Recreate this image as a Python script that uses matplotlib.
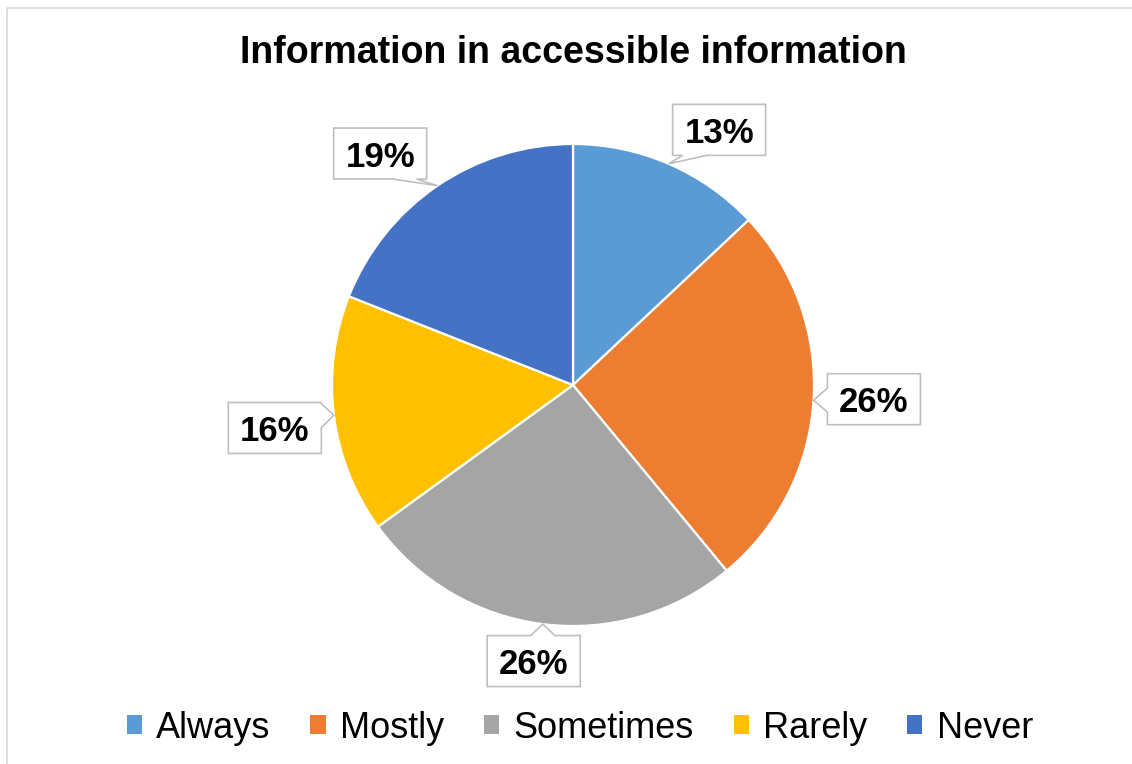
import matplotlib
matplotlib.use("Agg")
import numpy as np
import matplotlib.pyplot as plt
from matplotlib.patches import Polygon, Rectangle, Patch

# Survey responses (percent of respondents)
categories = ["Always", "Mostly", "Sometimes", "Rarely", "Never"]
shares = [13, 26, 26, 16, 19]
colors = ["#5B9BD5", "#ED7D31", "#A5A5A5", "#FFC000", "#4472C4"]
title = "Information in accessible information"

W, H = 1132, 764
plt.rcParams["font.family"] = ["Liberation Sans", "DejaVu Sans"]

fig = plt.figure(figsize=(W / 100, H / 100), dpi=100)
ax = fig.add_axes([0, 0, 1, 1])


def py(y):
    """Convert a top-down pixel row to the axes' bottom-up y."""
    return H - y


center = (573, py(385))
radius = 241
wedges, _ = ax.pie(shares, colors=colors, startangle=90, counterclock=False,
                   center=center, radius=radius, frame=True,
                   wedgeprops=dict(edgecolor="white", linewidth=1.6))
ax.set_xlim(0, W)
ax.set_ylim(0, H)
ax.set_aspect("equal")
ax.axis("off")

# Outer chart frame
ax.add_patch(Rectangle((7, py(H + 20)), W + 20, H + 12, fill=False,
                       edgecolor="#D9D9D9", linewidth=1.2, clip_on=False))

# Callout placement: (radius factor, angular nudge in degrees) per label
label_layout = [(1.22, -6.4), (1.25, 0.9), (1.157, -0.9), (1.25, 1.0), (1.25, 5.6)]
box_w, box_h = 93, 51

for w, val, (rf, nudge) in zip(wedges, shares, label_layout):
    mid = np.deg2rad((w.theta1 + w.theta2) / 2)
    tip = (center[0] + radius * np.cos(mid), center[1] + radius * np.sin(mid))
    ang = mid + np.deg2rad(nudge)
    cx = center[0] + rf * radius * np.cos(ang)
    cy = center[1] + rf * radius * np.sin(ang)
    hw, hh = box_w / 2, box_h / 2
    x0, x1, y0, y1 = cx - hw, cx + hw, cy - hh, cy + hh
    nx = (tip[0] - cx) / hw
    ny = (tip[1] - cy) / hh
    half = 12
    m = 22
    if abs(ny) > abs(nx):
        bx = np.clip(tip[0], x0 + m, x1 - m)
        if ny < 0:  # pointer from bottom edge
            pts = [(x0, y1), (x1, y1), (x1, y0), (bx + half, y0), tip,
                   (bx - half, y0), (x0, y0)]
        else:       # pointer from top edge
            pts = [(x0, y0), (x1, y0), (x1, y1), (bx + half, y1), tip,
                   (bx - half, y1), (x0, y1)]
    else:
        by = np.clip(tip[1], y0 + m * 0.6, y1 - m * 0.6)
        if nx < 0:  # pointer from left edge
            pts = [(x1, y0), (x1, y1), (x0, y1), (x0, by + half), tip,
                   (x0, by - half), (x0, y0)]
        else:       # pointer from right edge
            pts = [(x0, y0), (x0, y1), (x1, y1), (x1, by + half), tip,
                   (x1, by - half), (x1, y0)]
    ax.add_patch(Polygon(pts, closed=True, facecolor="white",
                         edgecolor="#BFBFBF", linewidth=1.2, zorder=5))
    ax.text(cx, cy, f"{val}%", ha="center", va="center_baseline",
            fontsize=25, fontweight="bold", color="black", zorder=6)

ax.text(573, py(63), title, ha="center", va="baseline",
        fontsize=27, fontweight="bold", color="black")

handles = [Patch(facecolor=c, edgecolor="none") for c in colors]
fig.legend(handles, categories, loc="center", bbox_to_anchor=(580 / W, 1 - 728 / H),
           ncol=5, frameon=False, fontsize=26, handlelength=0.42, handleheight=0.42,
           handletextpad=0.4, columnspacing=1.1, borderaxespad=0)

fig.savefig("out.png", dpi=100)
